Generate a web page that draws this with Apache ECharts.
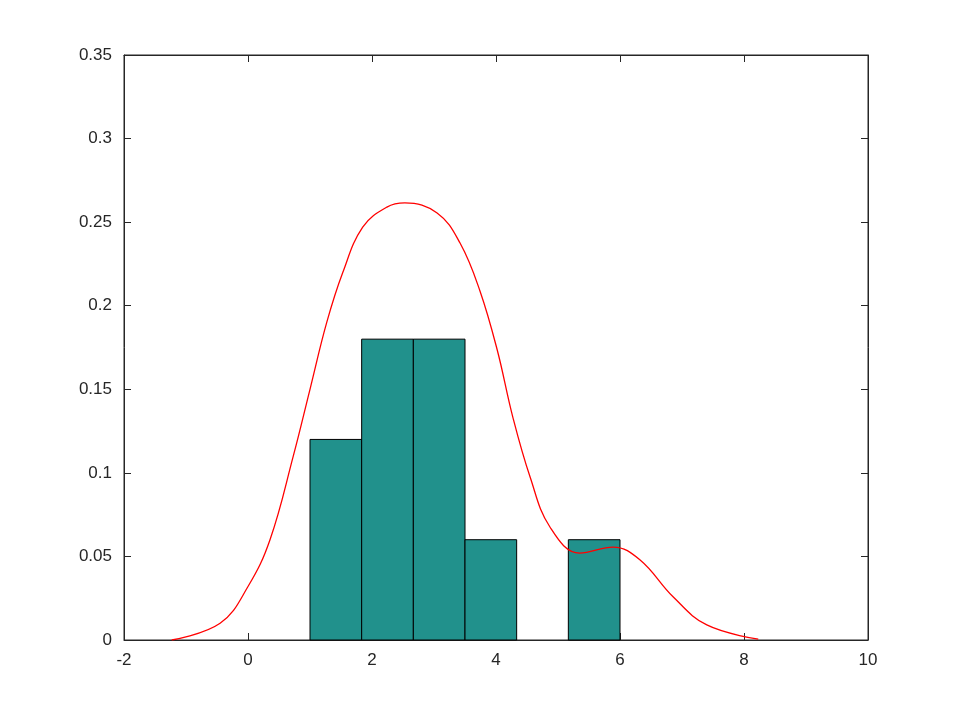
<!DOCTYPE html>
<html><head><meta charset="utf-8">
<script src="https://cdn.jsdelivr.net/npm/echarts@6/dist/echarts.min.js"></script>
<style>html,body{margin:0;background:#fff}#c{width:960px;height:720px}</style>
</head><body><div id="c"></div>
<script>
const binEdges = [1, 1.8333, 2.6667, 3.5, 4.3333, 5.1667, 6];
const binHeights = [0.12, 0.18, 0.18, 0.06, 0, 0.06];
const kdeX = [-1.23, -0.45, 0, 0.355, 0.73, 1.0, 1.27, 1.53, 1.85, 2.24, 2.53, 3.05, 3.42, 3.74, 4.02, 4.27, 4.55, 4.87, 5.35, 5.89, 6.32, 6.86, 7.4, 8.23];
const kdeY = [0, 0.010, 0.032, 0.060, 0.110, 0.150, 0.190, 0.220, 0.247, 0.259, 0.2615, 0.2555, 0.2375, 0.209, 0.1735, 0.1335, 0.0975, 0.0676, 0.052, 0.0556, 0.048, 0.0257, 0.009, 0.0005];
const xTicks = [-2, 0, 2, 4, 6, 8, 10];
const yTicks = [0, 0.05, 0.1, 0.15, 0.2, 0.25, 0.3, 0.35];

const bars = binHeights.map((h, i) => [binEdges[i], binEdges[i + 1], h]).filter(b => b[2] > 0);
const font = {fontFamily: 'Liberation Sans', fontSize: 17, color: '#262626'};
const axisCommon = {
  axisLine: {show: true, onZero: false, lineStyle: {color: '#262626', width: 1}},
  axisTick: {show: true, inside: true, length: 7, lineStyle: {color: '#262626'}},
  splitLine: {show: false}
};
const chart = echarts.init(document.getElementById('c'));
chart.setOption({
  animation: false,
  grid: {left: 124, right: 92, top: 55, bottom: 80, show: true, borderColor: '#262626', borderWidth: 1},
  xAxis: [
    Object.assign({type: 'value', min: -2, max: 10, interval: 2, axisLabel: Object.assign({margin: 12}, font)}, axisCommon),
    Object.assign({type: 'value', position: 'top', min: -2, max: 10, interval: 2, axisLabel: {show: false}}, axisCommon)
  ],
  yAxis: [
    Object.assign({type: 'value', min: 0, max: 0.35, interval: 0.05, axisLabel: Object.assign({margin: 12, formatter: v => String(+v.toFixed(2))}, font)}, axisCommon),
    Object.assign({type: 'value', position: 'right', min: 0, max: 0.35, interval: 0.05, axisLabel: {show: false}}, axisCommon)
  ],
  series: [
    {
      type: 'custom', data: bars,
      renderItem: (params, api) => {
        const p0 = api.coord([api.value(0), 0]);
        const p1 = api.coord([api.value(1), api.value(2)]);
        return {type: 'rect', shape: {x: p0[0], y: p1[1], width: p1[0] - p0[0], height: p0[1] - p1[1]},
          style: {fill: '#21918c', stroke: '#000', lineWidth: 1}};
      }
    },
    {
      type: 'line', data: kdeX.map((x, i) => [x, kdeY[i]]), smooth: 0.4, symbol: 'none',
      lineStyle: {color: '#ff0000', width: 1.3}, z: 5
    }
  ]
});
</script></body></html>
